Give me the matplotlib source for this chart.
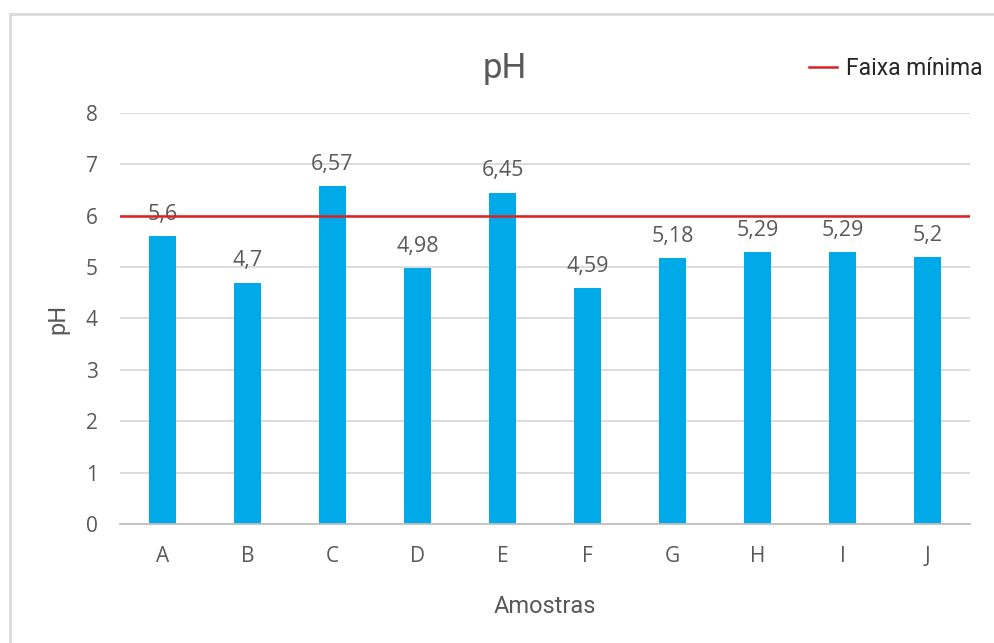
import matplotlib
matplotlib.use("Agg")
import matplotlib.pyplot as plt
from matplotlib.patches import Rectangle
from matplotlib.lines import Line2D

amostras = ["A", "B", "C", "D", "E", "F", "G", "H", "I", "J"]
ph = [5.6, 4.7, 6.57, 4.98, 6.45, 4.59, 5.18, 5.29, 5.29, 5.2]
faixa_minima = 6
yticks = [0, 1, 2, 3, 4, 5, 6, 7, 8]

cinza = "#595959"
azul = "#00a9e8"
vermelho = "#e02020"

plt.rcParams["font.family"] = ["Open Sans", "DejaVu Sans"]

fig = plt.figure(figsize=(9.94, 6.43), dpi=100)
ax = fig.add_axes([0.1207, 0.1851, 0.8552, 0.6392])

# moldura do grafico
fig.patches.append(Rectangle((10 / 994, -0.05), 1.2, 1 - 14 / 643 + 0.05,
                             transform=fig.transFigure, fill=False,
                             edgecolor="#d9d9d9", lw=2))

x = range(len(amostras))
barras = ax.bar(x, ph, width=0.31, color=azul, zorder=2)
ax.bar_label(barras, labels=[str(v).replace(".", ",") for v in ph],
             padding=8, fontsize=15.5, color=cinza)

ax.axhline(faixa_minima, color=vermelho, lw=1.8, zorder=3)

ax.set_xlim(-0.5, len(amostras) - 0.5)
ax.set_ylim(0, 8)
ax.set_yticks(yticks)
ax.set_xticks(list(x))
ax.set_xticklabels(amostras)
ax.grid(axis="y", color="#d9d9d9", lw=1.3, zorder=0)
ax.tick_params(length=0, labelsize=15, labelcolor=cinza)
ax.tick_params(axis="x", pad=16)
ax.tick_params(axis="y", pad=16)
for s in ["top", "right", "left"]:
    ax.spines[s].set_visible(False)
ax.spines["bottom"].set_color("#bfbfbf")
ax.spines["bottom"].set_linewidth(1.3)

ax.set_xlabel("Amostras", fontsize=17, color=cinza, labelpad=20,
              family="Roboto")
ax.set_ylabel("pH", fontsize=17, color=cinza, labelpad=12, family="Roboto")
fig.text(0.508, 0.893, "pH", ha="center", va="center", fontsize=25,
         color=cinza, family="Roboto")

leg = ax.legend([Line2D([], [], color=vermelho, lw=1.8)], ["Faixa mínima"],
                loc="center right", bbox_to_anchor=(1.0, 0.893),
                bbox_transform=fig.transFigure, frameon=False,
                handlelength=1.2, handletextpad=0.4, borderpad=0,
                prop={"family": "Roboto", "size": 16.5})
for t in leg.get_texts():
    t.set_color("#262626")

fig.savefig("out.png", dpi=100)
